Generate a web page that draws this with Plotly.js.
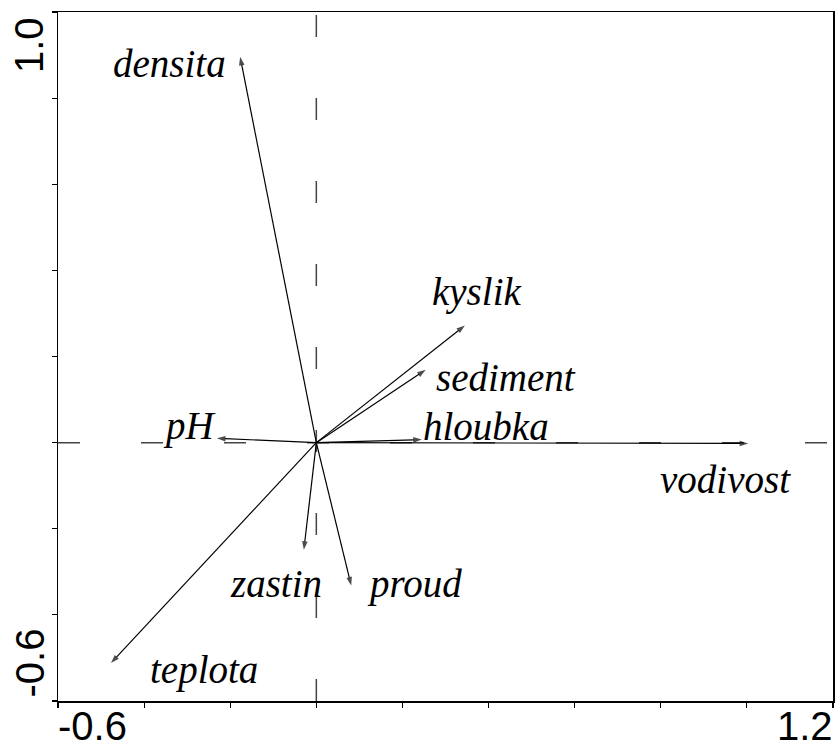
<!DOCTYPE html>
<html>
<head>
<meta charset="utf-8">
<script src="https://cdn.plot.ly/plotly-3.0.1.min.js"></script>
<style>
  html, body { margin: 0; padding: 0; background: #ffffff; }
  #chart { width: 835px; height: 749px; }
</style>
</head>
<body>
<div id="chart"></div>
<script>
// Environmental variables and their biplot scores on the first two ordination axes
const varNames = ['densita', 'kyslik', 'sediment', 'hloubka', 'vodivost', 'pH', 'zastin', 'proud', 'teplota'];
const axis1 = [-0.177, 0.345, 0.254, 0.245, 1.003, -0.231, -0.029, 0.081, -0.477];
const axis2 = [0.896, 0.272, 0.169, 0.007, -0.002, 0.010, -0.249, -0.332, -0.512];

// Axis ranges and the two labelled ticks on each axis
const xRange = [-0.6, 1.2];
const yRange = [-0.6, 1.0];
const xTickVals = [-0.6, 1.2];
const xTickText = ['-0.6', '1.2'];
const yTickVals = [-0.6, 1.0];
const yTickText = ['-0.6', '1.0'];

// Where each variable name sits (centre of the label, in axis units)
const labelPlacement = {
  densita:  [-0.341, 0.880],
  kyslik:   [0.371, 0.350],
  sediment: [0.441, 0.151],
  hloubka:  [0.393, 0.038],
  vodivost: [0.951, -0.086],
  pH:       [-0.294, 0.038],
  zastin:   [-0.094, -0.326],
  proud:    [0.228, -0.328],
  teplota:  [-0.261, -0.529]
};

const serif = 'Liberation Serif, Times New Roman, serif';
const sans = 'Liberation Sans, Arial, sans-serif';
const dashStyle = '22px,61px';

const traces = [];

// dashed reference lines through the origin
traces.push({
  type: 'scatter', mode: 'lines',
  x: [0, 0], y: [yRange[0], yRange[1]],
  line: { color: '#444', width: 1.5, dash: dashStyle },
  hoverinfo: 'skip', showlegend: false
});
traces.push({
  type: 'scatter', mode: 'lines',
  x: [xRange[0], xRange[1]], y: [0, 0],
  line: { color: '#444', width: 1.5, dash: dashStyle },
  hoverinfo: 'skip', showlegend: false
});

// one arrow per variable, from the origin to its score
varNames.forEach((name, i) => {
  traces.push({
    type: 'scatter', mode: 'lines+markers',
    name: name,
    x: [0, axis1[i]], y: [0, axis2[i]],
    line: { color: '#000', width: 1.2 },
    marker: {
      symbol: ['circle', 'arrow'],
      size: [0, 9],
      angleref: 'previous',
      color: '#000',
      line: { width: 0 }
    },
    cliponaxis: false,
    hoverinfo: 'name', showlegend: false
  });
});

const annotations = [];

varNames.forEach((name) => {
  const p = labelPlacement[name];
  annotations.push({
    xref: 'x', yref: 'y', x: p[0], y: p[1],
    text: name, showarrow: false,
    xanchor: 'center', yanchor: 'middle',
    font: { family: serif, size: 39, color: '#000', style: 'italic' }
  });
});

// tick labels at the ends of each axis, kept inside the frame span
xTickVals.forEach((v, i) => {
  const first = i === 0;
  annotations.push({
    xref: 'x', yref: 'paper', x: v, y: 0,
    text: xTickText[i], showarrow: false,
    xanchor: first ? 'left' : 'right',
    xshift: first ? -2 : 2,
    yanchor: 'top', yshift: -1,
    font: { family: sans, size: 40, color: '#000' }
  });
});
yTickVals.forEach((v, i) => {
  const first = i === 0;
  annotations.push({
    xref: 'paper', yref: 'y', x: 0, y: v,
    text: yTickText[i], showarrow: false,
    textangle: -90,
    xanchor: 'right', xshift: -5,
    yanchor: first ? 'bottom' : 'top',
    yshift: first ? 1 : -3,
    font: { family: sans, size: 40, color: '#000' }
  });
});

const axisCommon = {
  showgrid: false,
  zeroline: false,
  showline: true,
  mirror: true,
  linecolor: '#000',
  linewidth: 1.5,
  ticks: 'outside',
  ticklen: 5,
  tickwidth: 1.2,
  tickcolor: '#000',
  showticklabels: false,
  dtick: 0.2,
  fixedrange: true
};

const layout = {
  width: 835,
  height: 749,
  margin: { l: 58, r: 2, t: 12, b: 48, pad: 0 },
  paper_bgcolor: '#ffffff',
  plot_bgcolor: '#ffffff',
  showlegend: false,
  xaxis: Object.assign({}, axisCommon, { range: xRange, tick0: xRange[0] }),
  yaxis: Object.assign({}, axisCommon, { range: yRange, tick0: yRange[0] }),
  annotations: annotations
};

Plotly.newPlot('chart', traces, layout, { staticPlot: true, displayModeBar: false });
</script>
</body>
</html>
